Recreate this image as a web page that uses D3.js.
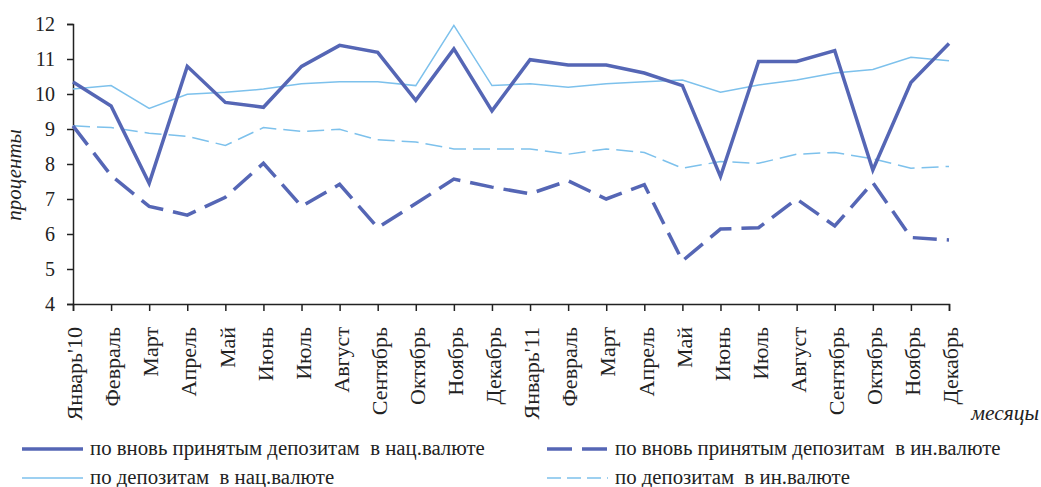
<!DOCTYPE html>
<html>
<head>
<meta charset="utf-8">
<script src="https://cdn.jsdelivr.net/npm/d3@7"></script>
<style>
  body { margin: 0; background: #fff; }
</style>
</head>
<body>
<div id="chart"></div>
<script>
(function() {

  // months along the x axis
  var months = ["Январь'10", 'Февраль', 'Март', 'Апрель', 'Май', 'Июнь', 'Июль', 'Август',
    'Сентябрь', 'Октябрь', 'Ноябрь', 'Декабрь', "Январь'11", 'Февраль', 'Март', 'Апрель',
    'Май', 'Июнь', 'Июль', 'Август', 'Сентябрь', 'Октябрь', 'Ноябрь', 'Декабрь'];

  // по вновь принятым депозитам в нац.валюте
  var newNat = [10.34, 9.66, 7.45, 10.79, 9.76, 9.62, 10.79, 11.39, 11.19, 9.82, 11.29, 9.52,
    10.98, 10.83, 10.83, 10.6, 10.24, 7.64, 10.93, 10.93, 11.24, 7.83, 10.33, 11.44];
  // по вновь принятым депозитам в ин.валюте
  var newFor = [9.09, 7.67, 6.79, 6.54, 7.05, 8.02, 6.79, 7.42, 6.18, 6.87, 7.57, 7.34,
    7.15, 7.52, 7.0, 7.41, 5.23, 6.14, 6.18, 7.0, 6.23, 7.47, 5.9, 5.83];
  // по депозитам в нац.валюте
  var allNat = [10.14, 10.24, 9.59, 9.99, 10.05, 10.14, 10.29, 10.35, 10.35, 10.24, 11.96, 10.24,
    10.29, 10.19, 10.29, 10.35, 10.4, 10.05, 10.26, 10.4, 10.6, 10.7, 11.05, 10.95];
  // по депозитам в ин.валюте
  var allFor = [9.09, 9.04, 8.88, 8.79, 8.53, 9.04, 8.93, 8.99, 8.69, 8.63, 8.43, 8.43,
    8.43, 8.28, 8.43, 8.33, 7.88, 8.07, 8.02, 8.28, 8.33, 8.15, 7.88, 7.93];

  var yTicks = [4, 5, 6, 7, 8, 9, 10, 11, 12];

  var labels = [
    'по вновь принятым депозитам  в нац.валюте',
    'по вновь принятым депозитам  в ин.валюте',
    'по депозитам  в нац.валюте',
    'по депозитам  в ин.валюте'
  ];

  init();

  function init() {
    var width = 1041;
    var height = 487;
    var dark = '#5566b5';
    var light = '#7dc1ec';
    var serif = "'Liberation Serif', 'Times New Roman', 'DejaVu Serif', serif";

    var svg = d3.select('#chart')
      .append('svg')
      .attr('width', width)
      .attr('height', height)
      .style('font-family', serif);

    var x = d3.scalePoint()
      .domain(d3.range(months.length))
      .range([73, 949]);

    var y = d3.scaleLinear()
      .domain([4, 12])
      .range([304, 24]);

    // y axis
    var yAxis = svg.append('g')
      .attr('transform', 'translate(73,0)')
      .call(d3.axisLeft(y).tickValues(yTicks).tickSize(6).tickPadding(12).tickFormat(d3.format('d')));
    yAxis.attr('font-family', null);
    yAxis.select('.domain').attr('stroke', '#222').attr('stroke-width', 1.5);
    yAxis.selectAll('.tick line').attr('stroke', '#222').attr('stroke-width', 1.5);
    yAxis.selectAll('.tick text')
      .style('font-family', serif)
      .attr('font-size', 20)
      .attr('fill', '#222');

    // x axis
    var xAxis = svg.append('g')
      .attr('transform', 'translate(0,304)')
      .call(d3.axisBottom(x).tickSizeOuter(0).tickSize(7).tickFormat(function(i) { return months[i]; }));
    xAxis.attr('font-family', null);
    xAxis.select('.domain').attr('stroke', '#222').attr('stroke-width', 1.5);
    xAxis.selectAll('.tick line').attr('stroke', '#222').attr('stroke-width', 1.5);
    xAxis.selectAll('.tick text')
      .style('font-family', serif)
      .attr('font-size', 22)
      .attr('fill', '#222')
      .attr('text-anchor', 'end')
      .attr('transform', 'translate(1,23) rotate(-90)')
      .attr('x', 0)
      .attr('y', 0)
      .attr('dy', '0.35em');

    // axis titles
    svg.append('text')
      .attr('transform', 'translate(21,175) rotate(-90)')
      .attr('text-anchor', 'middle')
      .attr('font-size', 21)
      .attr('font-style', 'italic')
      .attr('fill', '#222')
      .text('проценты');

    svg.append('text')
      .attr('x', 1039)
      .attr('y', 420)
      .attr('text-anchor', 'end')
      .attr('font-size', 21.5)
      .attr('font-style', 'italic')
      .attr('fill', '#222')
      .text('месяцы');

    var series = [
      { values: allNat, color: light, width: 1.5, dash: null },
      { values: allFor, color: light, width: 1.5, dash: '17,7' },
      { values: newFor, color: dark, width: 3.5, dash: '24,10' },
      { values: newNat, color: dark, width: 3.5, dash: null }
    ];

    var line = d3.line()
      .x(function(d, i) { return x(i); })
      .y(function(d) { return y(d); });

    svg.append('g').selectAll('path')
      .data(series)
      .enter()
      .append('path')
      .attr('fill', 'none')
      .attr('stroke', function(d) { return d.color; })
      .attr('stroke-width', function(d) { return d.width; })
      .attr('stroke-dasharray', function(d) { return d.dash; })
      .attr('stroke-linejoin', 'miter')
      .attr('d', function(d) { return line(d.values); });

    // legend
    var legendItems = [
      { label: labels[0], color: dark, width: 3.5, dash: null, lx: 22, ly: 449 },
      { label: labels[1], color: dark, width: 3.5, dash: '25,10', lx: 547, ly: 449 },
      { label: labels[2], color: light, width: 1.5, dash: null, lx: 22, ly: 478 },
      { label: labels[3], color: light, width: 1.5, dash: '14,6', lx: 547, ly: 478 }
    ];

    var legend = svg.append('g').selectAll('g')
      .data(legendItems)
      .enter()
      .append('g')
      .attr('transform', function(d) { return 'translate(' + d.lx + ',' + d.ly + ')'; });

    legend.append('line')
      .attr('x1', 0)
      .attr('x2', 61)
      .attr('stroke', function(d) { return d.color; })
      .attr('stroke-width', function(d) { return d.width; })
      .attr('stroke-dasharray', function(d) { return d.dash; });

    legend.append('text')
      .attr('x', 68)
      .attr('y', 6)
      .attr('font-size', 20.8)
      .attr('fill', '#222')
      .style('white-space', 'pre')
      .text(function(d) { return d.label; });
  }

})();
</script>
</body>
</html>
